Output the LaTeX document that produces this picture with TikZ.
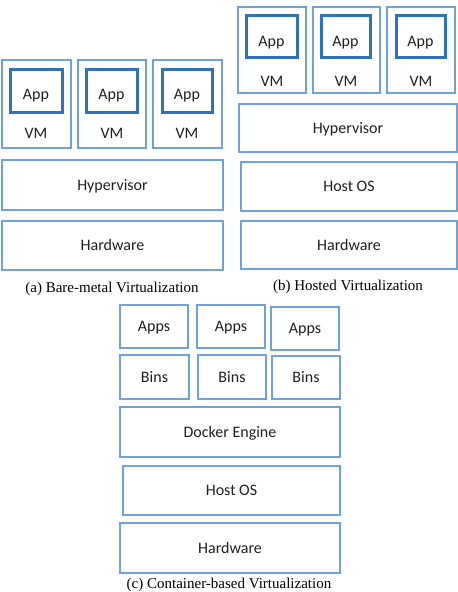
\documentclass[tikz,border=0pt]{standalone}
\usepackage{fontspec}
\setmainfont{Liberation Serif}
\newfontfamily\boxfont{Carlito}
\definecolor{lightblue}{HTML}{6FA1DA}
\definecolor{darkblue}{HTML}{2E73B8}
\tikzset{
  boxtxt/.style={inner sep=0pt, text height=10.3pt, text depth=0pt, font=\boxfont\fontsize{16}{18}\selectfont, text=black!88},
  box/.style={boxtxt, draw=lightblue, line width=2.7pt, fill=white},
  appbox/.style={boxtxt, draw=darkblue, line width=3pt, fill=white},
  lbl/.style={boxtxt},
  captext/.style={inner sep=0pt, font=\fontsize{15}{17}\selectfont}
}
\newcommand\bx[7]{\node[#1, minimum width={#5-#3}, minimum height={#6-#4}] (#2) at ({(#3+#5)/2},{(#4+#6)/2}) {#7};}
\begin{document}
\begin{tikzpicture}[x=1pt,y=-1pt]
\useasboundingbox (0,0) rectangle (458,592);
% (a) Bare-metal
\bx{box}{avm1}{2}{60}{71}{148}{}
\bx{box}{avm2}{78}{60}{146}{148}{}
\bx{box}{avm3}{153}{60}{222}{148}{}
\bx{appbox}{aapp1}{10}{69}{62}{112}{\raisebox{-4pt}{App}}
\bx{appbox}{aapp2}{86}{69}{137}{112}{\raisebox{-4pt}{App}}
\bx{appbox}{aapp3}{162}{69}{212}{112}{\raisebox{-4pt}{App}}
\node[lbl] (avmt1) at (36,133.5) {VM};
\node[lbl] (avmt2) at (112,133.5) {VM};
\node[lbl] (avmt3) at (187,133.5) {VM};
\bx{box}{ahyp}{2}{160}{223}{210}{Hypervisor}
\bx{box}{ahw}{2}{221}{223}{270}{Hardware}
\node[captext] (capa) at (112,289) {(a)\ Bare-metal Virtualization};
% (b) Hosted
\bx{box}{bvm1}{238}{7}{306}{93}{}
\bx{box}{bvm2}{313}{7}{380}{93}{}
\bx{box}{bvm3}{387}{7}{455}{93}{}
\bx{appbox}{bapp1}{246}{15}{297}{57}{\raisebox{-5pt}{App}}
\bx{appbox}{bapp2}{321}{15}{370}{57}{\raisebox{-5pt}{App}}
\bx{appbox}{bapp3}{396}{15}{445}{57}{\raisebox{-5pt}{App}}
\node[lbl] (bvmt1) at (272,81) {VM};
\node[lbl] (bvmt2) at (346,81) {VM};
\node[lbl] (bvmt3) at (421,81) {VM};
\bx{box}{bhyp}{239}{104}{457}{152}{Hypervisor}
\bx{box}{bhost}{241}{162}{457}{211}{Host OS}
\bx{box}{bhw}{241}{221}{457}{269}{Hardware}
\node[captext] (capb) at (348,286.5) {(b)\ Hosted Virtualization};
% (c) Container-based
\bx{box}{capp1}{120}{305}{188}{348}{Apps}
\bx{box}{capp2}{197}{305}{265}{348}{Apps}
\bx{box}{capp3}{271}{307}{339}{350}{Apps}
\bx{box}{cbin1}{120}{355}{189}{399}{Bins}
\bx{box}{cbin2}{198}{355}{266}{399}{Bins}
\bx{box}{cbin3}{272}{356}{340}{399}{Bins}
\bx{box}{cdock}{120}{407}{340}{457}{Docker Engine}
\bx{box}{chost}{123}{466}{340}{515}{Host OS}
\bx{box}{chw}{120}{523}{340}{573}{Hardware}
\node[captext, anchor=south] (capc) at (229,591.5) {(c)\ Container-based Virtualization};
\end{tikzpicture}
\end{document}
